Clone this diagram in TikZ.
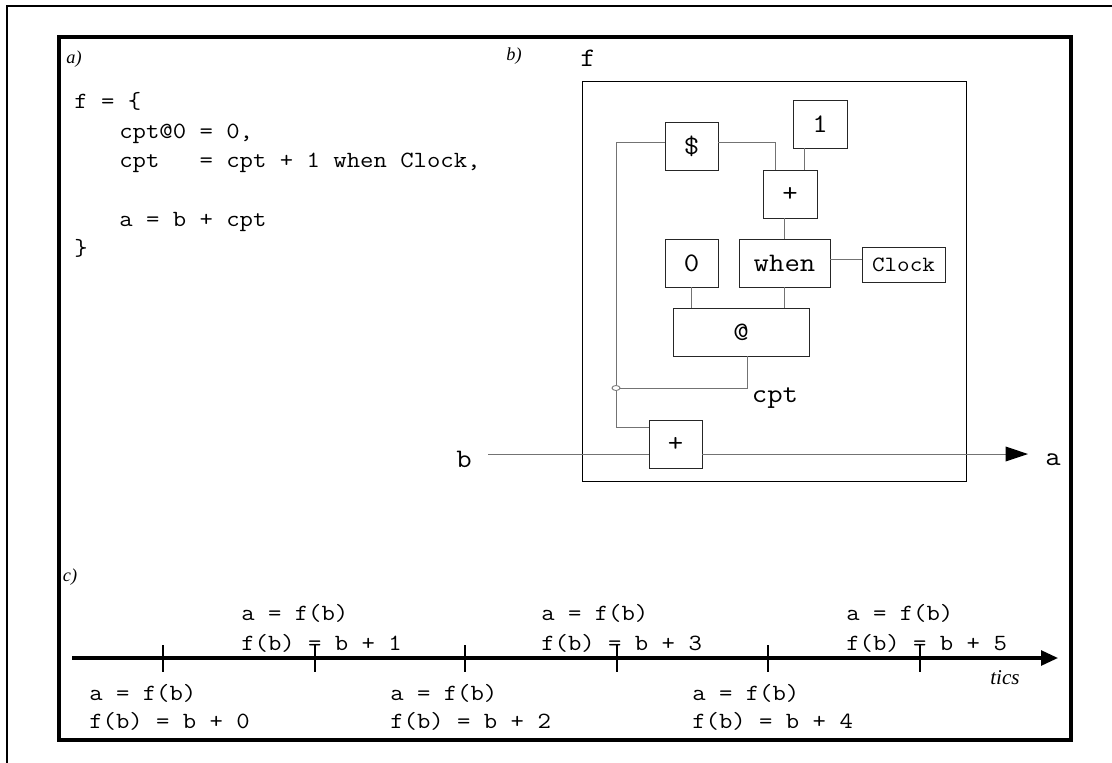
\documentclass[tikz,border=0pt]{standalone}
\usepackage{fontspec}
\setmonofont[FakeStretch=1.12]{Latin Modern Mono}
\newfontfamily\partfont{Liberation Serif}
\usepackage{tikz}
\usetikzlibrary{arrows.meta, positioning, calc, shapes.geometric}

\begin{document}
\begin{tikzpicture}[
                    x=0.025cm, y=-0.025cm,
                    op/.style={draw=black!85, line width=0.6pt, inner sep=0pt, minimum width=1.325cm, minimum height=1.2cm, font=\ttfamily\fontsize{19}{19}\selectfont},
                    wire/.style={draw=black!55, line width=0.7pt},
                    lbl/.style={inner sep=0pt, anchor=base, font=\ttfamily\fontsize{19}{19}\selectfont},
                    code/.style={inner sep=0pt, anchor=base west, font=\ttfamily\fontsize{16.5}{16.5}\selectfont},
                    part/.style={inner sep=0pt, font=\partfont\itshape\fontsize{13}{13}\selectfont},
                ]
                \useasboundingbox (0,0) rectangle (1112,763);
                % frames
                \draw[line width=0.8pt] (7,763) -- (7,6) -- (1112,6);
                \draw[line width=2.2pt] (59,37) rectangle (1071,740);

                % a) the source
                \node[part] (pa) at (74,59) {a)};
                \node[code] (l1) at (74,108) {f = \{};
                \node[code] (l2) at (119,138) {cpt@0 = 0,};
                \node[code] (l3) at (119,167) {cpt\ \ \ = cpt + 1 when Clock,};
                \node[code] (l4) at (119,226) {a = b + cpt};
                \node[code] (l5) at (74,255) {\}};

                % b) the graph
                \node[part] (pb) at (514,56) {b)};
                \node[lbl] (fname) at (588,66) {f};
                \node[draw, line width=0.7pt, minimum width=9.575cm, minimum height=9.975cm] (fbox) at (774.5,281.5) {};
                \node[op] (dollar) at (691.5,146) {\$};
                \node[op, minimum width=1.35cm] (one) at (820,124) {1};
                \node[op, minimum width=1.35cm] (plust) at (790,194) {+};
                \node[op] (zero) at (691.5,263) {0};
                \node[op, minimum width=2.275cm] (when) at (784.5,263) {when};
                \node[op, minimum width=2.075cm, minimum height=0.875cm, font=\ttfamily\fontsize{15.5}{15.5}\selectfont] (clock) at (903.5,264.5) {Clock};
                \node[op, minimum width=3.4cm] (at) at (741,332) {@};
                \node[op] (plusb) at (675.5,444) {+};
                \node[ellipse, draw=black!55, fill=white, line width=0.6pt, minimum width=0.2cm, minimum height=0.125cm, inner sep=0pt] (junc) at (616,388) {};
                \node[lbl] (cpt) at (775,402) {cpt};
                \node[lbl] (bname) at (464,467) {b};
                \node[lbl] (aname) at (1053,465) {a};
                \coordinate (bin) at (488,454);
                \coordinate (aout) at (1028,454);

                \draw[wire] ($(dollar.east)+(0,-4)$) -| ($(plust.north west)+(13,0)$);
                \draw[wire] ($(one.south west)+(12,0)$) -- ($(plust.north west)+(42,0)$);
                \draw[wire] (when.north) -- (when.north |- plust.south);
                \draw[wire] ($(when.east)+(0,-4)$) -- ($(when.east -| clock.west)+(0,-4)$);
                \draw[wire] (zero.south) -- (zero.south |- at.north);
                \draw[wire] (when.south) -- (when.south |- at.north);
                \draw[wire] ($(at.south)+(6,0)$) |- (junc.east);
                \draw[wire] ($(dollar.west)+(0,-4)$) -| (junc.north);
                \draw[wire] (junc.south) |- ($(plusb.west)+(0,-17)$);
                \draw[wire] (bin) -- ($(plusb.west)+(0,10)$);
                \draw[wire, -{Triangle[length=16pt, width=10.5pt, color=black]}] ($(plusb.east)+(0,10)$) -- (aout);

                % c) the tics
                \node[part] (pc) at (70,577) {c)};
                \coordinate (tstart) at (72,658);
                \coordinate (tend) at (1058,658);
                \draw[line width=2.2pt, -{Triangle[length=12pt, width=10.5pt]}] (tstart) -- (tend);
                \foreach \x in {163,315,465,617,768,920}
                        \draw[line width=1.4pt] (\x,645) -- (\x,672);
                \foreach \x/\n [count=\i] in {89/0, 390/2, 692/4} {
                        \node[code] (low\i) at (\x,700) {a = f(b)};
                        \node[code] (lowf\i) at (\x,728) {f(b) = b + \n};
                }
                \foreach \x/\n [count=\i] in {241/1, 541/3, 846/5} {
                        \node[code] (up\i) at (\x,620) {a = f(b)};
                        \node[code] (upf\i) at (\x,650) {f(b) = b + \n};
                }
                \node[part, font=\partfont\itshape\fontsize{15}{15}\selectfont] (tics) at (1005,678) {tics};
\end{tikzpicture}
\end{document}
